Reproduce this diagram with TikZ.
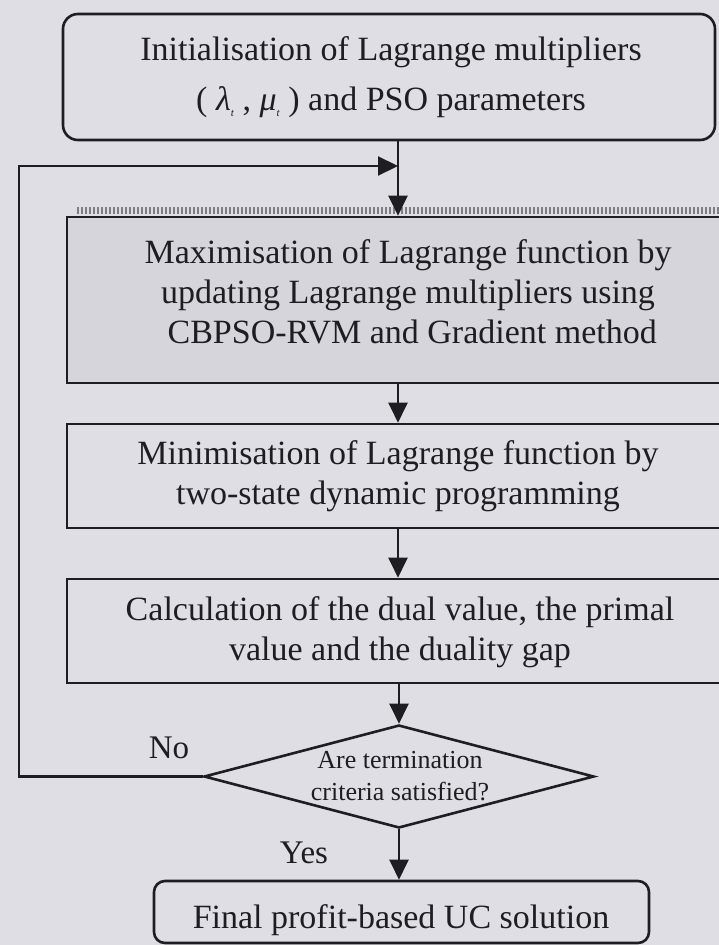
\documentclass[tikz,border=0pt]{standalone}
\usepackage{fontspec}
\setmainfont{Liberation Serif}
\usetikzlibrary{arrows.meta,shapes.geometric}
\definecolor{bgcol}{RGB}{222,222,228}
\definecolor{shadecol}{RGB}{213,213,219}
\definecolor{inkcol}{RGB}{30,30,34}
\definecolor{tickcol}{RGB}{125,125,133}
\newcommand{\multsym}[1]{\textit{#1}\raisebox{-6pt}{\fontsize{11}{11}\selectfont\textit{t}}}
\tikzset{
  boxline/.style={draw=inkcol, line width=2.6pt},
  stepbox/.style={boxline, rectangle, inner sep=0pt},
  roundbox/.style={stepbox, rounded corners=15pt},
  boxtext/.style={align=center, inner sep=0pt, text=inkcol,
    font=\fontsize{34}{40}\selectfont},
  flow/.style={draw=inkcol, line width=2.2pt,
    -{Triangle[length=20pt,width=19pt]}},
  lbl/.style={font=\fontsize{33}{40}\selectfont, text=inkcol, inner sep=0pt},
}
\begin{document}
\begin{tikzpicture}[x=1pt,y=-1pt]
\useasboundingbox (0,0) rectangle (719,945);
\clip (0,0) rectangle (719,945);
\fill[bgcol] (0,0) rectangle (719,945);

% main spine of the flowchart
\coordinate (axis) at (398,0);

% start box
\node[roundbox, fill=bgcol, minimum width=652, minimum height=126] (init) at (389,77) {};
\node[boxtext] (inittext) at (391,77)
  {Initialisation of Lagrange multipliers\\[10pt]
   ( \multsym{λ} , \multsym{μ} ) and PSO parameters};

% shaded box with its hatched top band
\foreach \k in {0,...,160}
  \draw[tickcol, line width=1.2pt] (78+4*\k,207) -- (78+4*\k,214);
\node[stepbox, fill=shadecol, minimum width=673, minimum height=166] (maxi) at (403.5,300) {};
\node[boxtext] (maxitext) at (408,291.5)
  {Maximisation of Lagrange function by\\
   updating Lagrange multipliers using\\
   \ CBPSO-RVM and Gradient method};

% plain process boxes
\node[stepbox, fill=bgcol, minimum width=673, minimum height=104] (mini) at (403.5,476) {};
\node[boxtext] (minitext) at (398,476)
  {Minimisation of Lagrange function by\\
   two-state dynamic programming};

\node[stepbox, fill=bgcol, minimum width=673, minimum height=104] (calc) at (403.5,631) {};
\node[boxtext] (calctext) at (400,632)
  {Calculation of the dual value, the primal\\
   value and the duality gap};

% decision
\node[diamond, boxline, fill=bgcol, inner sep=0pt, minimum width=390,
      minimum height=103, aspect=3.8] (dec) at (399,776.5) {};
\node[align=center, inner sep=0pt, text=inkcol,
      font=\fontsize{26}{32}\selectfont] (dectext) at (400,776)
  {Are termination\\criteria satisfied?};

% end box
\node[roundbox, rounded corners=11pt, fill=bgcol, minimum width=495, minimum height=62] (final) at (401.5,912) {};
\node[boxtext] (finaltext) at (401,920) {Final profit-based UC solution};

% connectors
\draw[flow] (init.south -| axis) -- (maxi.north -| axis);
\draw[flow] (maxi.south -| axis) -- (mini.north -| axis);
\draw[flow] (mini.south -| axis) -- (calc.north -| axis);
\draw[flow] (calc.south -| dec.north) -- (dec.north);
\draw[flow] (dec.south) -- (final.north -| dec.south);

% feedback loop
\coordinate (loopcorner) at (19,166);
\draw[flow] (dec.west) -| (loopcorner) -- (loopcorner -| axis);

% branch labels
\node[lbl] (nolbl) at (169,748) {No};
\node[lbl] (yeslbl) at (304,853) {Yes};
\end{tikzpicture}
\end{document}
